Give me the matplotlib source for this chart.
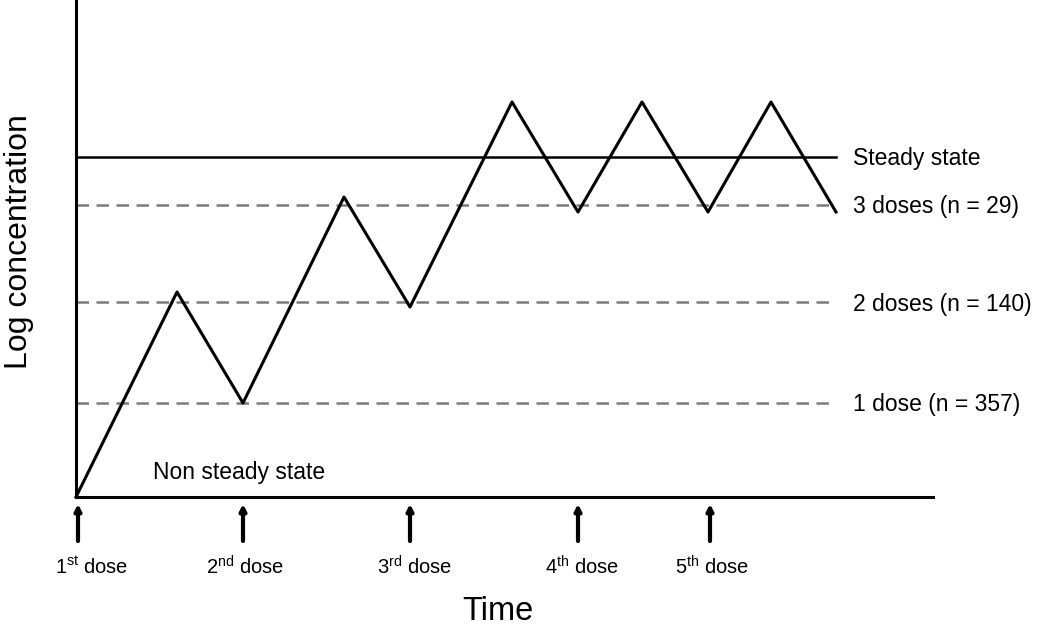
import matplotlib.pyplot as plt

plt.rcParams['font.family'] = ['Liberation Sans', 'DejaVu Sans']
plt.rcParams['mathtext.fontset'] = 'custom'
plt.rcParams['mathtext.rm'] = 'Liberation Sans'

# zigzag concentration profile (time, log concentration), arbitrary units
t = [0, 101, 167, 268, 334, 436, 502, 566, 632, 695, 760]
conc = [0, 205, 94, 300, 190, 395, 285, 395, 285, 395, 285]

# reference levels
steady = 340
dose_levels = [292, 195, 94]
dose_labels = ['3 doses (n = 29)', '2 doses (n = 140)', '1 dose (n = 357)']

# dosing times and where their labels sit
dose_times = [2, 167, 334, 502, 634]
label_pos = [16, 169, 338, 506, 636]
dose_names = ['1$^{\\rm st}$ dose', '2$^{\\rm nd}$ dose', '3$^{\\rm rd}$ dose',
              '4$^{\\rm th}$ dose', '5$^{\\rm th}$ dose']

fig = plt.figure(figsize=(10.5, 6.36), dpi=100)
ax = fig.add_axes([76 / 1050, 139 / 636, 857 / 1050, 497 / 636])
ax.set_xlim(0, 857)
ax.set_ylim(0, 497)

for s in ['top', 'right']:
    ax.spines[s].set_visible(False)
ax.spines['left'].set_linewidth(2.2)
ax.spines['bottom'].set_linewidth(2.2)
ax.set_xticks([])
ax.set_yticks([])

ax.plot(t, conc, color='black', lw=2.2, clip_on=False, zorder=3)
ax.plot([0, t[-1]], [steady, steady], color='black', lw=1.8)
ax.text(t[-1] + 17, steady - 2, 'Steady state', fontsize=16.5, va='center', ha='left')

for lvl, lab in zip(dose_levels, dose_labels):
    ax.plot([0, t[-1]], [lvl, lvl], color='#7a7a7a', lw=1.8, dashes=(5, 3))
    ax.text(t[-1] + 17, lvl - 2, lab, fontsize=16.5, va='center', ha='left')

ax.text(77, 25, 'Non steady state', fontsize=16.5, va='center', ha='left')

for x, lx, name in zip(dose_times, label_pos, dose_names):
    ax.annotate('', xy=(x, -7), xytext=(x, -44), annotation_clip=False,
                arrowprops=dict(arrowstyle='-|>,head_width=0.18,head_length=0.35',
                                color='black', lw=3, shrinkA=0, shrinkB=0))
    ax.text(lx, -70, name, fontsize=14.5, ha='center', va='center', clip_on=False)

ax.text(422, -114, 'Time', fontsize=23.5, ha='center', va='center')
ax.text(-57, 255, 'Log concentration', fontsize=23, rotation=90, ha='center', va='center')

fig.savefig('out.png', dpi=100)
